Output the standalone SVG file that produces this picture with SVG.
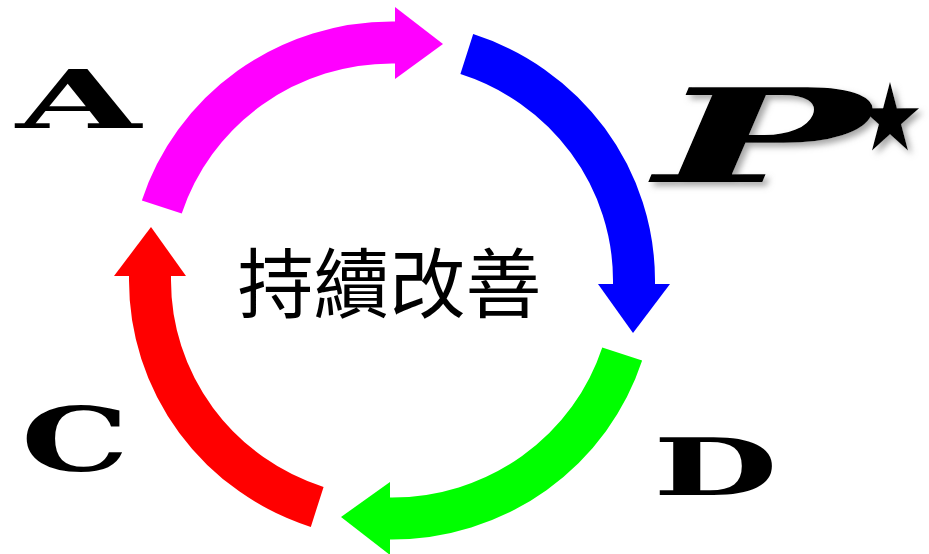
<svg xmlns="http://www.w3.org/2000/svg" width="929" height="554" viewBox="0 0 929 554">
  <style>
    .body { fill: none; stroke-width: 42; stroke-linecap: butt; stroke-linejoin: miter; }
    .letter { font-family: "DejaVu Serif", "Liberation Serif", serif; font-weight: bold; fill: #000000; }
    .center { font-family: "Noto Sans CJK TC", "Noto Sans CJK SC", sans-serif; font-size: 76px; fill: #000000; }
  </style>
  <defs>
    <filter id="shadow" x="-10%" y="-10%" width="130%" height="140%">
      <feDropShadow dx="4" dy="4" stdDeviation="3" flood-color="#808080" flood-opacity="0.7"/>
    </filter>
  </defs>
  <rect width="929" height="554" fill="#ffffff"/>

  <g id="connectors">
    <g id="arrow-plan">
      <path class="body" stroke="#0000FF" d="M 466.8 54.1 A 242 238 0 0 1 634 280.5 L 634 285"/>
      <polygon fill="#0000FF" points="598,284 670,284 633,333"/>
    </g>
    <g id="arrow-do">
      <path class="body" stroke="#00FF00" d="M 622.2 354 A 242 238 0 0 1 392 518.5 L 389 518.5"/>
      <polygon fill="#00FF00" points="390,482 390,555 341,517"/>
    </g>
    <g id="arrow-check">
      <path class="body" stroke="#FF0000" d="M 317.2 506.9 A 242 238 0 0 1 150 280.5 L 150 275"/>
      <polygon fill="#FF0000" points="114,276 186,276 151,227"/>
    </g>
    <g id="arrow-act">
      <path class="body" stroke="#FF00FF" d="M 161.8 207 A 242 238 0 0 1 392 42.5 L 396 42.5"/>
      <polygon fill="#FF00FF" points="395,7 395,79 443,44"/>
    </g>
  </g>

  <g id="node-center">
    <text class="center" x="389.5" y="312" text-anchor="middle">持續改善</text>
  </g>

  <g id="node-P" filter="url(#shadow)">
    <text class="letter" x="655" y="182" font-size="130" font-style="italic" textLength="215" lengthAdjust="spacingAndGlyphs">P</text>
    <text x="856" y="150" font-family="DejaVu Sans, sans-serif" font-size="94" font-style="italic" textLength="68" lengthAdjust="spacingAndGlyphs" fill="#000000">★</text>
  </g>
  <g id="node-A">
    <text class="letter" x="16" y="128" font-size="80" textLength="125" lengthAdjust="spacingAndGlyphs">A</text>
  </g>
  <g id="node-D">
    <text class="letter" x="653" y="495" font-size="78" textLength="125" lengthAdjust="spacingAndGlyphs">D</text>
  </g>
  <g id="node-C">
    <text class="letter" x="21" y="471" font-size="88" textLength="108" lengthAdjust="spacingAndGlyphs">C</text>
  </g>
</svg>
